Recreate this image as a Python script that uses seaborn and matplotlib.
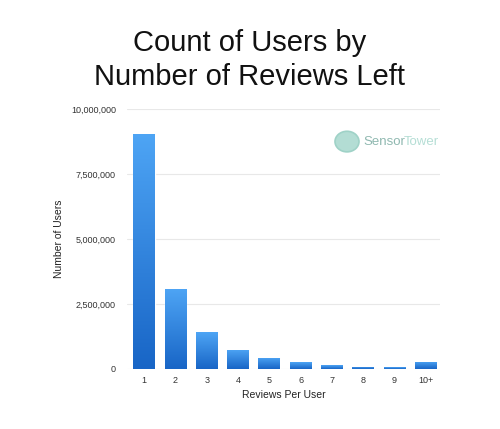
import numpy as np
import pandas as pd
import matplotlib
matplotlib.use("Agg")
import matplotlib.pyplot as plt
import seaborn as sns
from matplotlib.colors import LinearSegmentedColormap
from matplotlib.patches import Circle
from matplotlib.ticker import FuncFormatter

categories = ["1", "2", "3", "4", "5", "6", "7", "8", "9", "10+"]
users = [9060000, 3090000, 1420000, 740000, 440000, 260000, 150000, 90000, 60000, 270000]
y_ticks = [0, 2500000, 5000000, 7500000, 10000000]

sns.set_theme(style="white")
plt.rcParams['font.family'] = ['Liberation Sans', 'DejaVu Sans']

df = pd.DataFrame({"reviews": categories, "users": users})

fig = plt.figure(figsize=(5.0, 4.29), dpi=100)
ax = fig.add_axes([0.254, 0.14, 0.626, 0.605])

sns.barplot(data=df, x="reviews", y="users", color="#2f86e0", width=0.7,
            saturation=1, ax=ax, zorder=3)

ax.set_ylim(0, 10000000)
ax.set_xlim(-0.55, 9.45)
ax.set_yticks(y_ticks)
ax.yaxis.set_major_formatter(FuncFormatter(lambda v, p: f"{int(v):,}"))
ax.grid(axis="y", color="#e8e8e8", linewidth=0.8, zorder=0)
for s in ax.spines.values():
    s.set_visible(False)
ax.tick_params(axis="both", length=0, labelsize=6.5, colors="#333333")
ax.tick_params(axis="y", pad=8)
ax.tick_params(axis="x", pad=5)
ax.set_xlabel("Reviews Per User", fontsize=7.5, color="#222222", labelpad=4)
ax.set_ylabel("Number of Users", fontsize=7.5, color="#222222", labelpad=5)

# vertical gradient fill for each bar
cmap = LinearSegmentedColormap.from_list("bar", ["#1865c6", "#4ea5f5"])
grad = np.linspace(0, 1, 256).reshape(-1, 1)
for patch in ax.patches:
    x0, y0 = patch.get_x(), patch.get_y()
    w, h = patch.get_width(), patch.get_height()
    im = ax.imshow(grad, cmap=cmap, origin="lower", aspect="auto",
                   extent=[x0, x0 + w, y0, y0 + h], zorder=4)
    im.set_clip_path(patch)
ax.set_xlim(-0.55, 9.45)
ax.set_ylim(0, 10000000)

fig.text(0.5, 0.932, "Count of Users by\nNumber of Reviews Left", ha="center", va="top",
         fontsize=21, color="#111111", linespacing=1.25)

# logo
circ = Circle((0.694, 0.67), 0.024, transform=fig.transFigure, facecolor="#b3ddd4",
              edgecolor="#9fd2c7", linewidth=1.2, zorder=5)
fig.patches.append(circ)
fig.text(0.726, 0.67, "Sensor", fontsize=9.5, color="#8fb8b0", va="center", ha="left")
fig.text(0.808, 0.67, "Tower", fontsize=9.5, color="#b5ded5", va="center", ha="left")

fig.savefig("out.png", dpi=100, facecolor="white")
